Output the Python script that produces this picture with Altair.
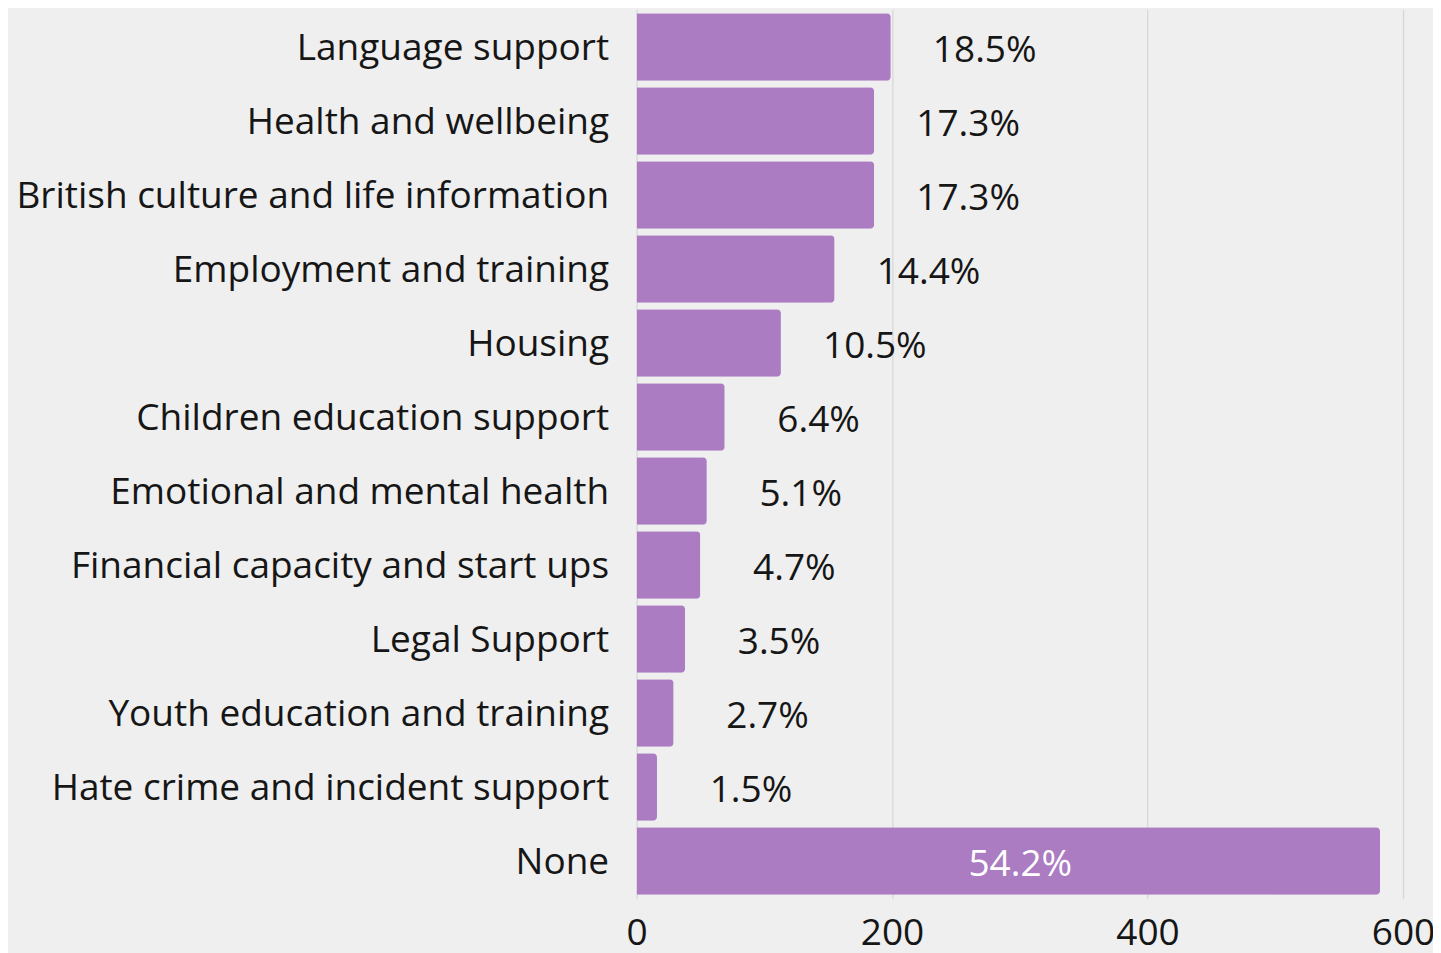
import altair as alt
import pandas as pd

categories = [
    "Language support",
    "Health and wellbeing",
    "British culture and life information",
    "Employment and training",
    "Housing",
    "Children education support",
    "Emotional and mental health",
    "Financial capacity and start ups",
    "Legal Support",
    "Youth education and training",
    "Hate crime and incident support",
    "None",
]
counts = [199, 186, 186, 155, 113, 69, 55, 50, 38, 29, 16, 582]
pct_labels = ["18.5%", "17.3%", "17.3%", "14.4%", "10.5%", "6.4%",
              "5.1%", "4.7%", "3.5%", "2.7%", "1.5%", "54.2%"]
x_ticks = [0, 200, 400, 600]

df = pd.DataFrame({"category": categories, "count": counts, "pct": pct_labels})

FONT = "Open Sans"
BAR = "#ab7cc2"
TXT = "#161616"
FS = 37

y_enc = alt.Y("category:N", sort=categories, title=None,
              scale=alt.Scale(paddingInner=0.09, paddingOuter=0.054),
              axis=alt.Axis(labelFontSize=FS, labelColor=TXT, labelFont=FONT,
                            labelPadding=28, labelOffset=2, ticks=False, domain=False,
                            labelLimit=700))
x_enc = alt.X("count:Q", title=None,
              scale=alt.Scale(domain=[0, 600], nice=False),
              axis=alt.Axis(values=x_ticks, labelFontSize=FS, labelColor=TXT,
                            labelFont=FONT, ticks=False, domain=False,
                            labelPadding=17, grid=True, gridColor="#d6d6d6",
                            gridWidth=1.2, labelFlush=False))

bars = alt.Chart(df).mark_bar(color=BAR, cornerRadiusEnd=4).encode(x=x_enc, y=y_enc)

labels = alt.Chart(df).transform_filter(alt.datum.category != "None").mark_text(
    align="center", baseline="middle", dx=94, dy=4, fontSize=FS, font=FONT, color=TXT
).encode(x="count:Q", y=alt.Y("category:N", sort=categories), text="pct:N")

none_label = alt.Chart(df).transform_filter(alt.datum.category == "None").mark_text(
    align="center", baseline="middle", dx=-360, dy=4, fontSize=FS, font=FONT, color="#ffffff"
).encode(x="count:Q", y=alt.Y("category:N", sort=categories), text="pct:N")

chart = alt.layer(bars, labels, none_label).properties(
    width=767, height=890,
    background="#efefef",
    padding={"left": 629, "top": 1, "right": 30, "bottom": 54},
    autosize=alt.AutoSizeParams(type="none"),
).configure_view(stroke=None)

chart.save("out.html", embed_options={"renderer": "svg", "actions": False})
